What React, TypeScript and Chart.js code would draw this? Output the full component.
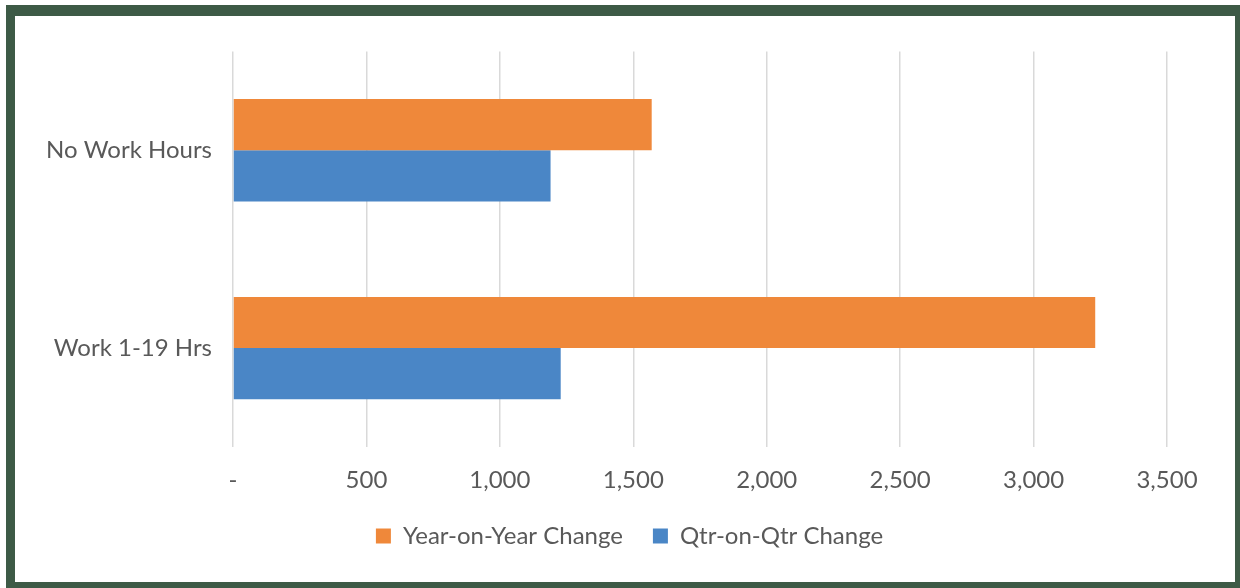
import React, { useEffect, useRef } from "react";
import { Chart, registerables } from "chart.js";

Chart.register(...registerables);

const categories = ["No Work Hours", "Work 1-19 Hrs"];
const yearOnYear = [1569, 3231];
const qtrOnQtr = [1190, 1228];
const seriesNames = ["Year-on-Year Change", "Qtr-on-Qtr Change"];
const xTicks = [0, 500, 1000, 1500, 2000, 2500, 3000, 3500];

const FONT = "Lato, 'Open Sans', sans-serif";
const TEXT = "#595959";

const fmt = (v: number) =>
  v === 0 ? "-" : String(Math.round(v)).replace(/\B(?=(\d{3})+(?!\d))/g, ",");

export default function App() {
  const ref = useRef<HTMLCanvasElement | null>(null);

  useEffect(() => {
    if (!ref.current) return;
    const chart = new Chart(ref.current, {
      type: "bar",
      data: {
        labels: categories,
        datasets: [
          {
            label: seriesNames[0],
            data: yearOnYear,
            backgroundColor: "#EF883A",
            borderWidth: 0,
          },
          {
            label: seriesNames[1],
            data: qtrOnQtr,
            backgroundColor: "#4A86C6",
            borderWidth: 0,
          },
        ],
      },
      options: {
        indexAxis: "y",
        responsive: false,
        animation: false,
        categoryPercentage: 0.5175,
        barPercentage: 1,
        layout: { padding: { left: 9, right: 0, top: 34, bottom: 24 } },
        plugins: {
          tooltip: { enabled: false },
          legend: {
            position: "bottom",
            labels: {
              boxWidth: 15,
              boxHeight: 15,
              padding: 30,
              color: TEXT,
              font: { family: FONT, size: 24 },
            },
          },
        },
        scales: {
          x: {
            min: 0,
            max: 3500,
            afterBuildTicks: (axis: any) => {
              axis.ticks = xTicks.map((v) => ({ value: v }));
            },
            afterFit: (axis: any) => {
              axis.height = 47;
            },
            grid: { color: "#d9d9d9", lineWidth: 1.5, drawTicks: false },
            border: { display: false },
            ticks: {
              padding: 19,
              color: TEXT,
              font: { family: FONT, size: 24 },
              callback: (v: any) => fmt(Number(v)),
            },
          },
          y: {
            afterFit: (axis: any) => {
              axis.width = 209;
            },
            grid: { display: false, drawTicks: false },
            border: { display: false },
            ticks: {
              padding: 21,
              color: TEXT,
              font: { family: FONT, size: 24 },
            },
          },
          yRight: {
            type: "category",
            position: "right",
            afterFit: (axis: any) => {
              axis.width = 68;
            },
            grid: { display: false, drawTicks: false },
            border: { display: false },
            ticks: { display: false },
          },
        },
      },
    });
    return () => chart.destroy();
  }, []);

  return (
    <div
      style={{
        position: "fixed",
        left: 0,
        top: 0,
        width: 1240,
        height: 588,
        background: "#ffffff",
      }}
    >
      <div
        style={{
          position: "absolute",
          left: 6,
          top: 5,
          width: 1234,
          height: 583,
          background: "#3d5a46",
        }}
      >
        <div
          style={{
            position: "absolute",
            left: 9,
            top: 11,
            width: 1220,
            height: 566,
            background: "#ffffff",
          }}
        >
          <canvas ref={ref} width={1220} height={566} style={{ display: "block" }} />
        </div>
      </div>
    </div>
  );
}
